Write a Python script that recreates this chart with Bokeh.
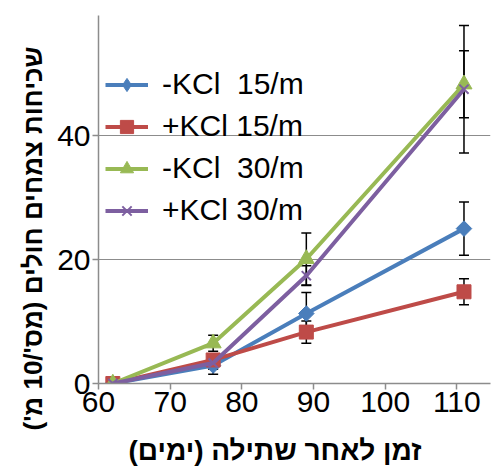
import math
from bokeh.plotting import figure
from bokeh.models import (ColumnDataSource, Whisker, TeeHead, Legend, LegendItem,
                          Range1d, FixedTicker, Title)
from bokeh.embed import file_html
from bokeh.resources import INLINE

# ---- data ----
days = [62, 76, 89, 111]
minus_kcl_15 = [0, 2.9, 11.3, 25.0]
plus_kcl_15 = [0, 3.8, 8.3, 14.8]
minus_kcl_30 = [0, 6.5, 20.1, 48.3]
plus_kcl_30 = [0, 3.3, 17.4, 47.5]
err_minus_15 = [0, 1.4, 3.4, 4.3]
err_plus_15 = [0, 0.9, 1.8, 2.1]
err_minus_30 = [0, 1.3, 4.2, 5.4]
err_plus_30 = [0, 1.0, 1.6, 10.3]

series_names = ["-KCl\u00a0 15/m", "+KCl 15/m", "-KCl\u00a0 30/m", "+KCl 30/m"]
x_ticks = [60, 70, 80, 90, 100, 110]
y_ticks = [0, 20, 40]
x_title = "זמן לאחר שתילה (ימים)"
y_title = "שכיחות צמחים חולים (מס'/10 מ')"

colors = ["#4A7EBB", "#BE4B48", "#98B954", "#7D5FA0"]
markers = ["square", "square", "triangle", "x"]
legend_markers = ["diamond", "square", "triangle", "x"]
angles = [math.pi / 4, 0, 0, 0]
sizes = [11, 14, 16, 13]

FONT = "Liberation Sans"
NBSP = "\u00a0"

p = figure(width=495, height=468, output_backend="svg", toolbar_location=None,
           x_range=Range1d(60, 114.7), y_range=Range1d(0, 59.4),
           min_border_left=98, min_border_right=5, min_border_top=15, min_border_bottom=85)
p.outline_line_color = None
p.background_fill_color = "white"
p.border_fill_color = "white"
p.xgrid.visible = False
p.ygrid.grid_line_color = "#8C8C8C"
p.ygrid.grid_line_width = 1.2

for ax in (p.xaxis[0], p.yaxis[0]):
    ax.axis_line_color = "#8C8C8C"
    ax.axis_line_width = 1.5
    ax.major_tick_line_color = "#8C8C8C"
    ax.major_tick_line_width = 1.5
    ax.major_tick_out = 6
    ax.major_tick_in = 0
    ax.minor_tick_line_color = None
    ax.major_label_text_font = FONT
    ax.major_label_text_font_size = "30px"
    ax.major_label_text_color = "black"
    ax.major_label_standoff = 2
    ax.axis_label_text_font = FONT
    ax.axis_label_text_font_style = "bold"
    ax.axis_label_text_color = "black"

p.xaxis.ticker = FixedTicker(ticks=x_ticks)
p.yaxis.ticker = FixedTicker(ticks=y_ticks)
# trailing no-break spaces only shift the centred title, as in the reference
p.xaxis.axis_label = x_title + NBSP * 5
p.xaxis.axis_label_text_font_size = "28px"
p.xaxis.axis_label_standoff = 20

# vertical y title, anchored below the frame bottom like the reference
ytitle = Title(text=y_title, align="left", offset=-47, standoff=14,
               text_font=FONT, text_font_style="bold", text_font_size="26px",
               text_color="black")
p.add_layout(ytitle, "left")

items = []
ys_all = [minus_kcl_15, plus_kcl_15, minus_kcl_30, plus_kcl_30]
errs_all = [err_minus_15, err_plus_15, err_minus_30, err_plus_30]
for name, ys, errs, c, m, lm, a, s in zip(series_names, ys_all, errs_all, colors,
                                         markers, legend_markers, angles, sizes):
    src = ColumnDataSource(dict(x=days, y=ys))
    lr = p.line("x", "y", source=src, line_color=c, line_width=4)
    p.scatter("x", "y", source=src, marker=m, size=s, angle=a,
              fill_color=c, line_color=c, line_width=2 if m == "x" else 1)
    # legend-only glyph placed off the visible range so the legend shows Excel-like symbols
    dummy = p.scatter(x=[0], y=[-100], marker=lm, size=s, fill_color=c, line_color=c,
                      line_width=2 if lm == "x" else 1)
    items.append(LegendItem(label=name, renderers=[lr, dummy]))

for ys, errs in zip(ys_all, errs_all):
    esrc = ColumnDataSource(dict(x=days[1:],
                                 upper=[y + e for y, e in zip(ys[1:], errs[1:])],
                                 lower=[y - e for y, e in zip(ys[1:], errs[1:])]))
    w = Whisker(source=esrc, base="x", upper="upper", lower="lower", dimension="height",
                line_color="black", line_width=1.5,
                upper_head=TeeHead(size=10, line_color="black", line_width=1.5),
                lower_head=TeeHead(size=10, line_color="black", line_width=1.5))
    p.add_layout(w)

legend = Legend(items=items, location=(7, 156), padding=0, margin=0, spacing=8,
                glyph_width=43, glyph_height=33, label_height=33, label_standoff=14,
                label_text_font=FONT, label_text_font_size="30px", label_text_color="black",
                background_fill_alpha=0, border_line_alpha=0)
p.add_layout(legend)

open("out.html", "w").write(file_html(p, INLINE))
